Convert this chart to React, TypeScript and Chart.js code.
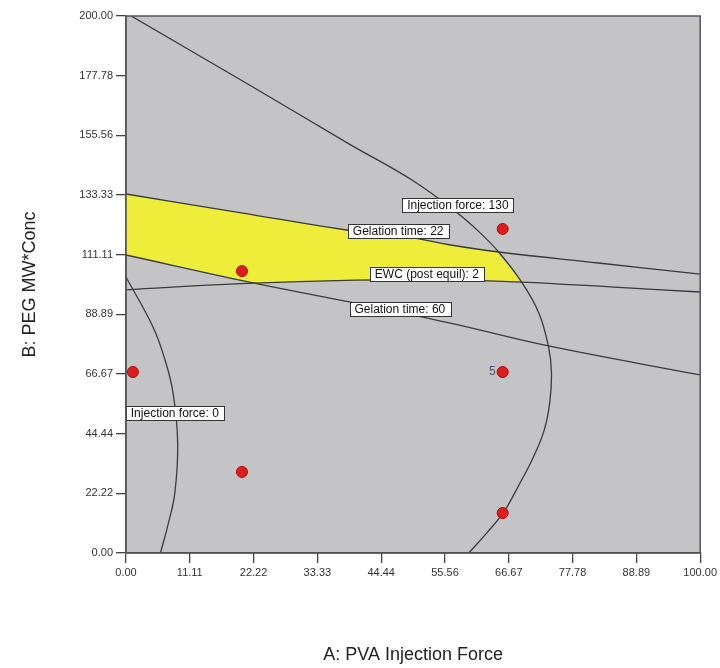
import { useEffect, useRef } from 'react';
import { Chart, registerables } from 'chart.js';

Chart.register(...registerables);

const FONT = "'Liberation Sans', Arial, sans-serif";

const xTickLabels = ['0.00', '11.11', '22.22', '33.33', '44.44', '55.56', '66.67', '77.78', '88.89', '100.00'];
const yTickLabels = ['0.00', '22.22', '44.44', '66.67', '88.89', '111.11', '133.33', '155.56', '177.78', '200.00'];

// design points
const designX = [65.6, 20.2, 1.2, 65.6, 20.2, 65.6];
const designY = [120.7, 105.0, 67.4, 67.4, 30.2, 14.9];
const designLabels = ['', '', '', '5', '', ''];

// contour: Injection force 130
const injection130X = [0.9, 21.5, 38.9, 49.8, 57.5, 61.5, 64.9, 68.9, 71.9, 73.6, 74.1, 73.8, 72.8, 70.9, 68.6, 65.8, 62.8, 59.7];
const injection130Y = [200, 174.3, 152.3, 138.9, 127.0, 119.6, 112.1, 100.9, 89.4, 76.7, 67.0, 56.0, 45.5, 35.5, 26.0, 15.3, 7.4, 0];

// contour: Injection force 0
const injection0X = [0, 4.7, 6.8, 8.2, 9.0, 8.5, 7.3, 6.0];
const injection0Y = [102.8, 84.2, 71.9, 59.6, 41.0, 22.3, 10.4, 0];

// contour: Gelation time 22
const gelation22X = [0, 19.8, 38.4, 47.6, 56.3, 64.9, 82.3, 100];
const gelation22Y = [133.7, 126.8, 120.3, 118.3, 114.8, 112.1, 108.0, 103.9];

// contour: Gelation time 60
const gelation60X = [0, 21.5, 38.9, 56.3, 73.6, 100];
const gelation60Y = [111.0, 100.9, 93.5, 85.7, 77.1, 66.3];

// contour: EWC (post equil) 2
const ewcX = [0, 20, 40, 55, 69, 85, 100];
const ewcY = [98.0, 100.3, 101.6, 101.7, 100.9, 99.0, 97.2];

// overlay (feasible) region
const overlayX = [0, 19.8, 38.4, 47.6, 56.3, 64.6, 66.8, 68.9, 55, 40, 22.4, 0, 0];
const overlayY = [133.7, 126.8, 120.3, 118.3, 114.8, 112.2, 106.6, 100.9, 101.7, 101.6, 100.5, 111.0, 133.7];

// contour labels (box centres)
const curveLabelTexts = ['Injection force: 130', 'Gelation time: 22', 'EWC (post equil): 2', 'Gelation time: 60', 'Injection force: 0'];
const curveLabelX = [57.8, 47.4, 52.4, 47.7, 8.5];
const curveLabelY = [129.6, 119.9, 103.9, 90.9, 52.1];

const toPts = (xs: number[], ys: number[]) => xs.map((x, i) => ({ x, y: ys[i] }));

const plotFrame = {
  id: 'plotFrame',
  beforeDraw(chart: any) {
    const { ctx, chartArea } = chart;
    const { left, top, width, height } = chartArea;
    ctx.save();
    ctx.fillStyle = '#c4c4c7';
    ctx.fillRect(left, top, width, height);
    ctx.restore();
  },
  afterDatasetsDraw(chart: any) {
    const { ctx, scales } = chart;
    const xs = scales.x;
    const ys = scales.y;
    ctx.save();
    ctx.font = `12px ${FONT}`;
    ctx.textBaseline = 'middle';
    ctx.textAlign = 'center';
    curveLabelTexts.forEach((t, i) => {
      const cx = xs.getPixelForValue(curveLabelX[i]);
      const cy = ys.getPixelForValue(curveLabelY[i]);
      const w = ctx.measureText(t).width + 10;
      const h = 14;
      ctx.fillStyle = '#ffffff';
      ctx.fillRect(Math.round(cx - w / 2) + 0.5, Math.round(cy - h / 2) + 0.5, Math.round(w), h);
      ctx.strokeStyle = '#333333';
      ctx.lineWidth = 1;
      ctx.strokeRect(Math.round(cx - w / 2) + 0.5, Math.round(cy - h / 2) + 0.5, Math.round(w), h);
      ctx.fillStyle = '#111111';
      ctx.fillText(t, cx, cy + 1);
    });
    ctx.font = `12px ${FONT}`;
    ctx.textAlign = 'right';
    ctx.fillStyle = '#55506e';
    designLabels.forEach((t, i) => {
      if (!t) return;
      const px = xs.getPixelForValue(designX[i]);
      const py = ys.getPixelForValue(designY[i]);
      ctx.fillText(t, px - 7, py);
    });
    ctx.restore();
  },
  afterDraw(chart: any) {
    const { ctx, chartArea } = chart;
    const { left, top, width, height } = chartArea;
    ctx.save();
    ctx.strokeStyle = '#555555';
    ctx.lineWidth = 1.5;
    ctx.strokeRect(left, top, width, height);
    ctx.restore();
  },
};

const lineStyle = {
  showLine: true,
  pointRadius: 0,
  borderColor: '#3a3a3a',
  borderWidth: 1.3,
  tension: 0.4,
  fill: false,
  order: 2,
};

export default function App() {
  const ref = useRef<HTMLCanvasElement | null>(null);

  useEffect(() => {
    if (!ref.current) return;
    const chart = new Chart(ref.current, {
      type: 'scatter',
      data: {
        datasets: [
          {
            label: 'overlay',
            data: toPts(overlayX, overlayY),
            showLine: true,
            pointRadius: 0,
            borderWidth: 0,
            borderColor: 'rgba(0,0,0,0)',
            backgroundColor: '#eeee3a',
            fill: 'shape',
            tension: 0,
            order: 3,
          } as any,
          { label: 'Injection force 130', data: toPts(injection130X, injection130Y), ...lineStyle } as any,
          { label: 'Injection force 0', data: toPts(injection0X, injection0Y), ...lineStyle } as any,
          { label: 'Gelation time 22', data: toPts(gelation22X, gelation22Y), ...lineStyle } as any,
          { label: 'Gelation time 60', data: toPts(gelation60X, gelation60Y), ...lineStyle } as any,
          { label: 'EWC 2', data: toPts(ewcX, ewcY), ...lineStyle } as any,
          {
            label: 'design',
            data: toPts(designX, designY),
            pointRadius: 5.5,
            pointBackgroundColor: '#e01c1c',
            pointBorderColor: '#a80e0e',
            pointBorderWidth: 1,
            showLine: false,
            order: 1,
          } as any,
        ],
      },
      options: {
        animation: false,
        responsive: false,
        layout: { padding: { left: 0, right: 18, top: 16, bottom: 0 } },
        plugins: { legend: { display: false }, tooltip: { enabled: false } },
        scales: {
          x: {
            type: 'linear',
            min: 0,
            max: 100,
            afterBuildTicks: (s: any) => {
              s.ticks = xTickLabels.map((l) => ({ value: parseFloat(l) }));
            },
            afterFit: (s: any) => {
              s.height = 115;
            },
            ticks: {
              autoSkip: false,
              maxRotation: 0,
              padding: 3,
              color: '#333333',
              font: { size: 11, family: FONT },
              callback: (_v: any, i: number) => xTickLabels[i],
            },
            grid: { drawOnChartArea: false, drawTicks: true, tickLength: 10, color: '#444444', lineWidth: 1.3 },
            border: { display: true, color: '#555555', width: 1.5 },
            title: {
              display: true,
              text: 'A: PVA Injection Force',
              color: '#222222',
              font: { size: 18, family: FONT },
              padding: { top: 0, bottom: 2 },
            },
          },
          y: {
            type: 'linear',
            min: 0,
            max: 200,
            afterBuildTicks: (s: any) => {
              s.ticks = yTickLabels.map((l) => ({ value: parseFloat(l) }));
            },
            afterFit: (s: any) => {
              s.width = 126;
            },
            ticks: {
              autoSkip: false,
              padding: 3,
              color: '#333333',
              font: { size: 11, family: FONT },
              callback: (_v: any, i: number) => yTickLabels[i],
            },
            grid: { drawOnChartArea: false, drawTicks: true, tickLength: 10, color: '#444444', lineWidth: 1.3 },
            border: { display: true, color: '#555555', width: 1.5 },
            title: {
              display: true,
              text: 'B: PEG MW*Conc',
              color: '#222222',
              font: { size: 18, family: FONT },
              padding: { top: 19, bottom: 0 },
            },
          },
        },
      } as any,
      plugins: [plotFrame],
    });
    return () => chart.destroy();
  }, []);

  return (
    <div style={{ position: 'absolute', left: 0, top: 0, width: 720, height: 668, background: '#ffffff' }}>
      <canvas ref={ref} width={720} height={668} />
    </div>
  );
}
